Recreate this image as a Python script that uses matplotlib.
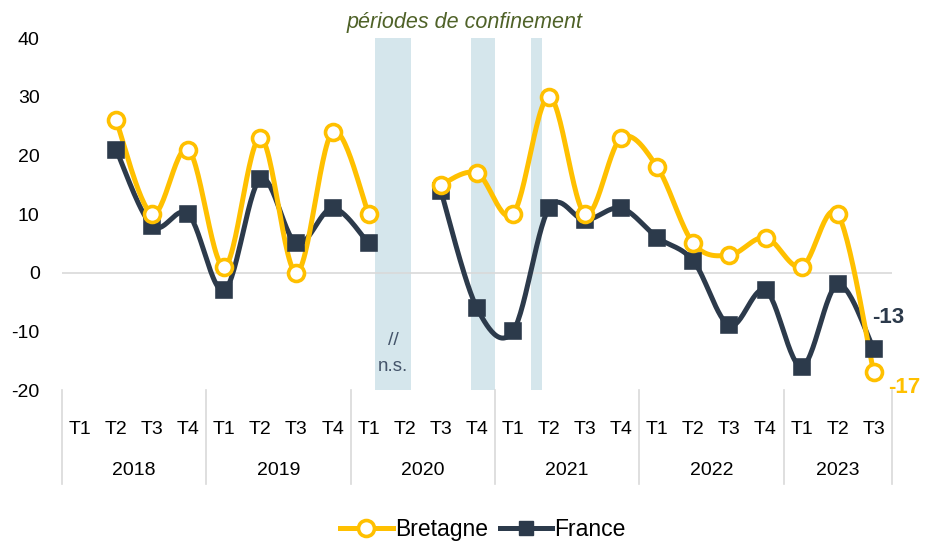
import numpy as np
import matplotlib.pyplot as plt
from matplotlib.lines import Line2D

years = ['2018', '2019', '2020', '2021', '2022', '2023']
quarters_per_year = [4, 4, 4, 4, 4, 3]
quarter_labels = ['T1', 'T2', 'T3', 'T4', 'T1', 'T2', 'T3', 'T4', 'T1', 'T2', 'T3', 'T4',
                  'T1', 'T2', 'T3', 'T4', 'T1', 'T2', 'T3', 'T4', 'T1', 'T2', 'T3']
bretagne = [None, 26, 10, 21, 1, 23, 0, 24, 10, None, 15, 17,
            10, 30, 10, 23, 18, 5, 3, 6, 1, 10, -17]
france = [None, 21, 8, 10, -3, 16, 5, 11, 5, None, 14, -6,
          -10, 11, 9, 11, 6, 2, -9, -3, -16, -2, -13]
# lockdown periods, in category units
confinement = [(8.17, 9.17), (10.83, 11.49), (12.49, 12.81)]

YELLOW = '#FFC000'
NAVY = '#2C3A4B'

plt.rcParams['font.family'] = ['Liberation Sans', 'DejaVu Sans']
plt.rcParams['axes.unicode_minus'] = False


def segments(vals):
    segs, cur = [], []
    for i, v in enumerate(vals):
        if v is None:
            if cur:
                segs.append(cur)
            cur = []
        else:
            cur.append((i, v))
    if cur:
        segs.append(cur)
    return segs


def smooth(pts, n=30):
    # Catmull-Rom like Excel's smoothed line
    p = np.array(pts, dtype=float)
    if len(p) < 2:
        return p[:, 0], p[:, 1]
    ext = np.vstack([p[0], p, p[-1]])
    xs, ys = [], []
    for k in range(1, len(ext) - 2):
        p0, p1, p2, p3 = ext[k - 1], ext[k], ext[k + 1], ext[k + 2]
        c1 = p1 + (p2 - p0) / 6
        c2 = p2 - (p3 - p1) / 6
        t = np.linspace(0, 1, n)[:, None]
        b = (1 - t) ** 3 * p1 + 3 * (1 - t) ** 2 * t * c1 + 3 * (1 - t) * t ** 2 * c2 + t ** 3 * p2
        xs.extend(b[:, 0]); ys.extend(b[:, 1])
    return np.array(xs), np.array(ys)


fig = plt.figure(figsize=(9.36, 5.45), dpi=100)
ax = fig.add_axes([0.0662, 0.2844, 0.8866, 0.6456])
n = len(quarter_labels)
ax.set_xlim(-0.5, n - 0.5)
ax.set_ylim(-20, 40)

for a, b in confinement:
    ax.axvspan(a, b, color='#D5E6EC', lw=0, zorder=0)
ax.axhline(0, color='#D9D9D9', lw=1.2, zorder=1)

for vals, col, mk, ms, mfc in [(france, NAVY, 's', 9.5, NAVY), (bretagne, YELLOW, 'o', 11.5, 'white')]:
    for seg in segments(vals):
        sx, sy = smooth(seg)
        ax.plot(sx, sy, color=col, lw=3.6, zorder=3, solid_capstyle='round')
        px, py = zip(*seg)
        ax.plot(px, py, ls='none', marker=mk, ms=ms, mfc=mfc, mec=col, mew=2.6, zorder=4)

ax.set_yticks(range(-20, 41, 10))
ax.tick_params(axis='y', length=0, labelsize=14, pad=16)
ax.set_xticks([])
for s in ax.spines.values():
    s.set_visible(False)

# category axis
for i, lab in enumerate(quarter_labels):
    ax.text(i, -26.8, lab, ha='center', va='center', fontsize=14, clip_on=False)
start = 0
bounds = [0]
for y, q in zip(years, quarters_per_year):
    ax.text(start + q / 2 - 0.5, -33.8, y, ha='center', va='center', fontsize=14, clip_on=False)
    start += q
    bounds.append(start)
for bnd in bounds:
    ax.plot([bnd - 0.5, bnd - 0.5], [-20, -36], color='#D9D9D9', lw=1.2, clip_on=False)

ax.text(10.65, 42.6, 'périodes de confinement', ha='center', va='center', fontsize=15.5,
        style='italic', color='#4F6228')
ax.text(8.68, -11.5, '//', ha='center', va='center', fontsize=14, color='#44546A')
ax.text(8.68, -16.0, 'n.s.', ha='center', va='center', fontsize=13.5, color='#44546A')

ax.text(22.4, -7.6, '-13', ha='center', va='center', fontsize=16, fontweight='bold', color=NAVY)
ax.text(22.85, -19.6, '-17', ha='center', va='center', fontsize=16, fontweight='bold', color=YELLOW)

handles = [Line2D([], [], color=YELLOW, lw=3.6, marker='o', ms=11.5, mfc='white', mec=YELLOW, mew=2.6),
           Line2D([], [], color=NAVY, lw=3.6, marker='s', ms=9.5, mfc=NAVY, mec=NAVY)]
fig.legend(handles, ['Bretagne', 'France'], loc='center', bbox_to_anchor=(0.516, 0.028), ncol=2,
           frameon=False, fontsize=16.5, handlelength=2.3, handletextpad=0.1, columnspacing=0.5)

fig.savefig('out.png', dpi=100)
